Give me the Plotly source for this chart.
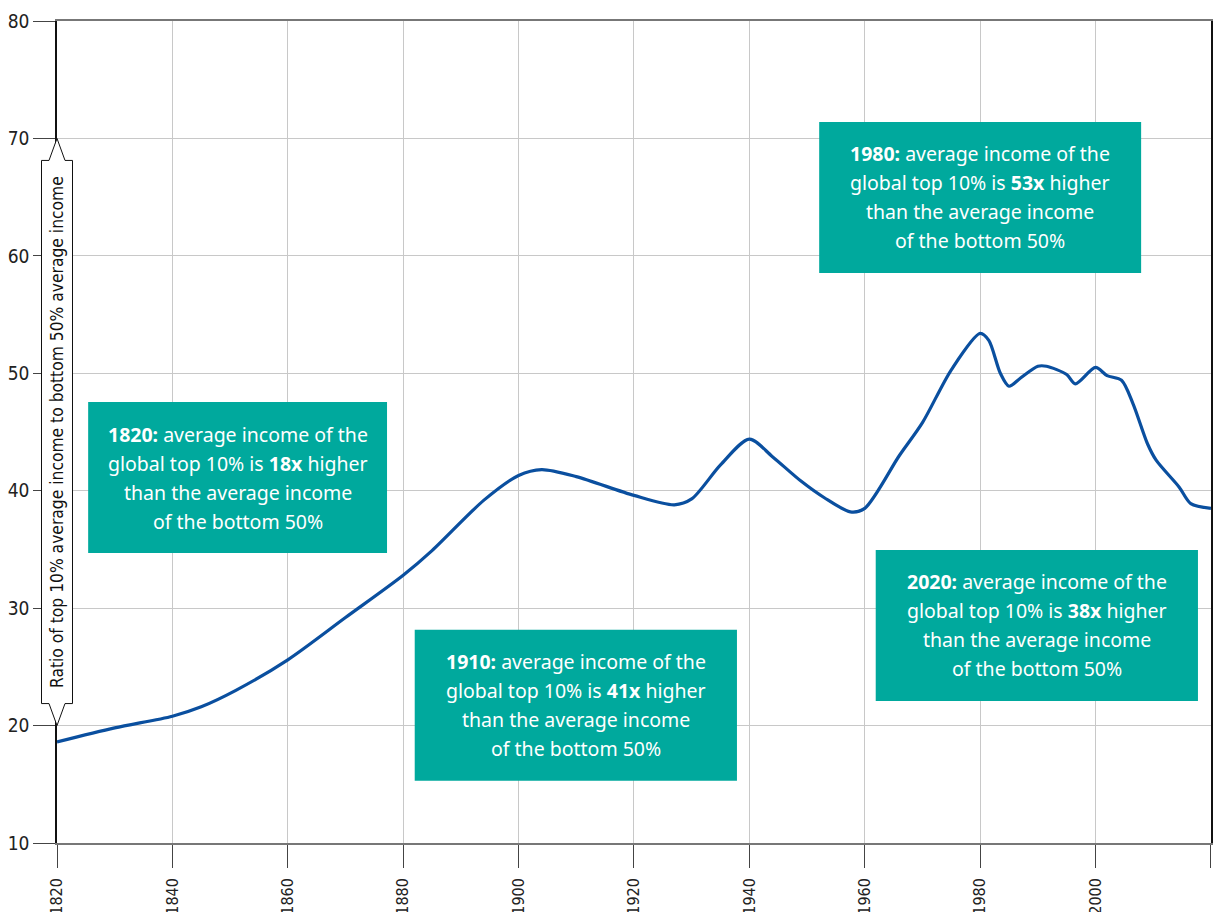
import plotly.graph_objects as go

# ratio of top 10% average income to bottom 50% average income
years = [1820, 1830, 1840, 1845, 1851, 1860, 1870, 1880, 1885, 1894, 1900, 1904,
         1910, 1920, 1927, 1930, 1935, 1940, 1944, 1949, 1953, 1957.5, 1960, 1966,
         1970, 1975, 1980, 1981.5, 1983.5, 1985, 1987, 1990, 1991.5, 1995, 1996.5,
         2000, 2002, 2004.5, 2006.5, 2009, 2010.5, 2014.5, 2016.5, 2020]
ratio = [18.6, 19.8, 20.8, 21.6, 23.0, 25.6, 29.2, 32.8, 34.9, 39.2, 41.3, 41.8,
         41.2, 39.6, 38.8, 39.3, 42.2, 44.4, 42.9, 40.8, 39.4, 38.2, 38.5, 43.0,
         45.8, 50.3, 53.4, 52.8, 50.0, 48.9, 49.6, 50.6, 50.6, 49.9, 49.1,
         50.5, 49.8, 49.4, 47.4, 44.0, 42.6, 40.3, 38.9, 38.5]

x_ticks = list(range(1820, 2021, 20))
y_ticks = list(range(10, 81, 10))

notes = [
    ["<b>1820:</b> average income of the", "global top 10% is <b>18x</b> higher",
     "than the average income", "of the bottom 50%"],
    ["<b>1910:</b> average income of the", "global top 10% is <b>41x</b> higher",
     "than the average income", "of the bottom 50%"],
    ["<b>1980:</b> average income of the", "global top 10% is <b>53x</b> higher",
     "than the average income", "of the bottom 50%"],
    ["<b>2020:</b> average income of the", "global top 10% is <b>38x</b> higher",
     "than the average income", "of the bottom 50%"],
]
# box extents (x0, x1, y0, y1) in data units
boxes = [
    (1825.4, 1877.2, 34.7, 47.55),
    (1882.0, 1937.85, 15.3, 28.15),
    (1952.1, 2007.9, 58.55, 71.4),
    (1961.9, 2017.75, 22.1, 34.95),
]

TEAL = "#00a99d"
BLUE = "#0a4f9f"
narrow = "Liberation Sans Narrow, DejaVu Sans Condensed, Arial Narrow, sans-serif"
note_font = "Noto Sans, Open Sans, sans-serif"

fig = go.Figure()
fig.add_trace(go.Scatter(x=years, y=ratio, mode="lines",
                         line=dict(color=BLUE, width=3.2, shape="spline", smoothing=0.8),
                         hoverinfo="skip"))

shapes = []
annotations = []
for (x0, x1, y0, y1), lines in zip(boxes, notes):
    shapes.append(dict(type="rect", xref="x", yref="y", x0=x0, x1=x1, y0=y0, y1=y1,
                       fillcolor=TEAL, line=dict(width=0), layer="above"))
    for i, txt in enumerate(lines):
        annotations.append(dict(x=(x0 + x1) / 2, y=(y0 + y1) / 2, xref="x", yref="y",
                                text=txt, showarrow=False, yshift=-(i - 1.5) * 29,
                                font=dict(family=note_font, size=19.5, color="white")))

# y-axis title box with arrow ends (x in paper units so it is not clipped)
plot_w = 1154
px_unit = 822 / 70
wo = 15.5 / plot_w
wi = 8 / plot_w
sh = 22 / px_unit
path = (f"M 0,70 L {wi},{70 - sh} L {wo},{70 - sh} "
        f"L {wo},{20 + sh} L {wi},{20 + sh} L 0,20 "
        f"L {-wi},{20 + sh} L {-wo},{20 + sh} "
        f"L {-wo},{70 - sh} L {-wi},{70 - sh} Z")
shapes.append(dict(type="path", xref="paper", yref="y", path=path, fillcolor="white",
                   line=dict(color="#111", width=1), layer="above"))
annotations.append(dict(x=0, y=45, xref="paper", yref="y", xanchor="center", yanchor="middle",
                        textangle=-90, showarrow=False,
                        text="Ratio of top 10% average income to bottom 50% average income",
                        font=dict(family=narrow, size=17.3, color="#111")))

fig.update_layout(
    width=1215, height=912,
    margin=dict(l=57, r=4, t=21, b=69),
    paper_bgcolor="white", plot_bgcolor="white",
    showlegend=False,
    shapes=shapes, annotations=annotations,
    xaxis=dict(range=[1820, 2020.01], tickvals=x_ticks, tickangle=-90, ticks="outside",
               ticklen=23, tickcolor="#444", tickfont=dict(family=narrow, size=16, color="#222"),
               ticklabelstandoff=4, automargin=False,
               showgrid=True, gridcolor="#c8c8c8", gridwidth=1, zeroline=False,
               showline=True, linecolor="#777", linewidth=1.5, mirror=True),
    yaxis=dict(range=[10, 80], tickvals=y_ticks, ticks="outside", ticklen=22,
               tickcolor="#444", tickfont=dict(family=narrow, size=19, color="#222"),
               automargin=False,
               showgrid=True, gridcolor="#c8c8c8", gridwidth=1, zeroline=False,
               showline=True, linecolor="#111", linewidth=1.5, mirror=True),
)

# drop the browser's default page margin so the figure sits at the top-left corner
fig.write_html("out.html", config={"displayModeBar": False},
               post_script="document.body.style.margin='0';")
